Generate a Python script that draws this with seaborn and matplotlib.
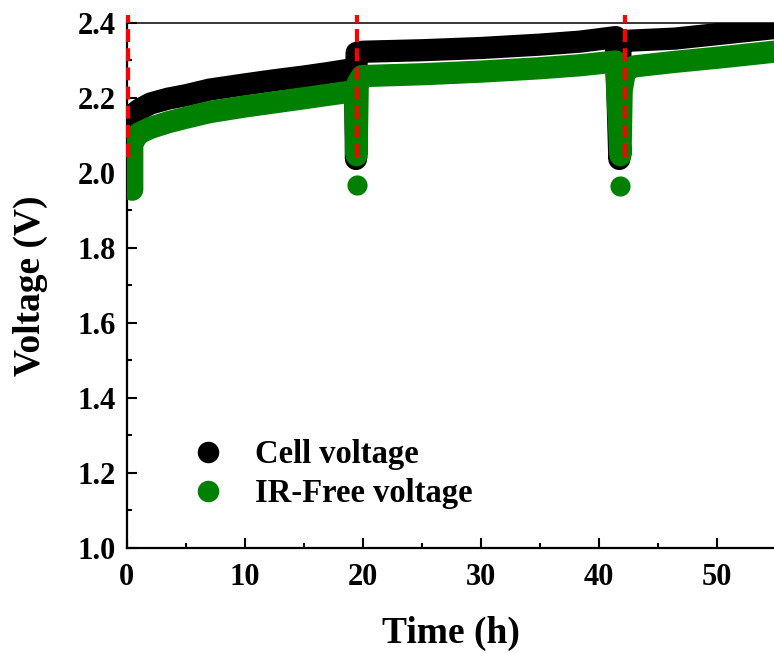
import matplotlib
matplotlib.use("Agg")
import matplotlib.pyplot as plt
from matplotlib.lines import Line2D
from matplotlib.ticker import MultipleLocator
import seaborn as sns

# Cell voltage trace (h, V)
cell_time = [0.15, 0.5, 1, 2, 3.5, 5, 7, 10, 12.5, 15, 17, 18.6, 19.3,
             19.4, 19.45, 20, 25, 30, 35, 38.4, 41.4,
             41.7, 41.8, 42.2, 46.4, 50, 54.8]
cell_volt = [2.135, 2.155, 2.168, 2.185, 2.198, 2.207, 2.222, 2.236, 2.247, 2.257, 2.266, 2.274, 2.278,
             2.037, 2.320, 2.323, 2.327, 2.333, 2.342, 2.350, 2.362,
             2.037, 2.345, 2.352, 2.358, 2.370, 2.386]

# IR-free voltage trace
irfree_time = [0.45, 0.45, 1, 2, 3.5, 5, 7, 10, 12.5, 15, 17, 18.6, 19.3,
               19.45, 19.55, 19.9, 25, 30, 35, 38.4, 41.4,
               41.8, 41.9, 42.2, 43, 46.4, 50, 54.8]
irfree_volt = [1.955, 2.080, 2.105, 2.120, 2.135, 2.147, 2.162, 2.177, 2.188, 2.199, 2.208, 2.215, 2.218,
               2.047, 2.240, 2.258, 2.263, 2.270, 2.279, 2.287, 2.297,
               2.047, 2.220, 2.275, 2.284, 2.296, 2.307, 2.323]

# isolated IR-free points right after each interruption
dot_time = [19.45, 41.8]
dot_volt = [1.968, 1.965]

# interruption markers
event_time = [0.1, 19.45, 42.2]

sns.set_theme(style="ticks")
plt.rcParams['font.family'] = ['Liberation Serif', 'DejaVu Serif']
plt.rcParams['font.weight'] = 'bold'
for key in ['text.color', 'axes.labelcolor', 'xtick.color', 'ytick.color', 'axes.edgecolor']:
    plt.rcParams[key] = 'black'

fig = plt.figure(figsize=(7.74, 6.53), dpi=100)
ax = fig.add_axes([0.164, 0.161, 0.836, 0.804])

lw = 16
sns.lineplot(x=cell_time, y=cell_volt, sort=False, estimator=None, ax=ax,
             color='black', linewidth=lw, solid_capstyle='round', solid_joinstyle='round', zorder=3)
sns.lineplot(x=irfree_time, y=irfree_volt, sort=False, estimator=None, ax=ax,
             color='#008000', linewidth=lw, solid_capstyle='round', solid_joinstyle='round', zorder=3)
sns.scatterplot(x=dot_time, y=dot_volt, ax=ax, color='#008000', s=14.5**2, linewidth=0, zorder=3)

for t in event_time:
    ax.axvline(t, ymin=(2.043 - 1.0) / 1.4, ymax=1.015, color='red', lw=3,
               dashes=(3.1, 1.5), clip_on=False, zorder=4)

ax.set_xlim(0, 54.8)
ax.set_ylim(1.0, 2.4)
ax.xaxis.set_major_locator(MultipleLocator(10))
ax.xaxis.set_minor_locator(MultipleLocator(5))
ax.yaxis.set_major_locator(MultipleLocator(0.2))
ax.yaxis.set_minor_locator(MultipleLocator(0.1))
ax.tick_params(which='both', direction='in', top=False, right=False, width=1.5,
               labelsize=22, pad=8)
ax.tick_params(axis='x', pad=11)
ax.tick_params(which='major', length=7)
ax.tick_params(which='minor', length=3.5)
for lab in ax.get_xticklabels() + ax.get_yticklabels():
    lab.set_fontweight('bold')

ax.spines['right'].set_visible(False)
ax.spines['left'].set_linewidth(1.6)
ax.spines['bottom'].set_linewidth(1.6)
ax.spines['top'].set_linewidth(1.1)

ax.set_xlabel('Time (h)', fontsize=27, fontweight='bold', labelpad=17)
ax.set_ylabel('Voltage (V)', fontsize=27, fontweight='bold', labelpad=21)

handles = [Line2D([], [], ls='none', marker='o', ms=14.5, color='black'),
           Line2D([], [], ls='none', marker='o', ms=14.5, color='#008000')]
ax.legend(handles, ['Cell voltage', 'IR-Free voltage'], loc='upper left',
          bbox_to_anchor=(0.1, 0.207), frameon=False, borderpad=0, borderaxespad=0,
          handlelength=1.0, handletextpad=0.95, labelspacing=0.25,
          prop={'size': 23.5, 'weight': 'bold'})

fig.savefig('out.png', dpi=100)
